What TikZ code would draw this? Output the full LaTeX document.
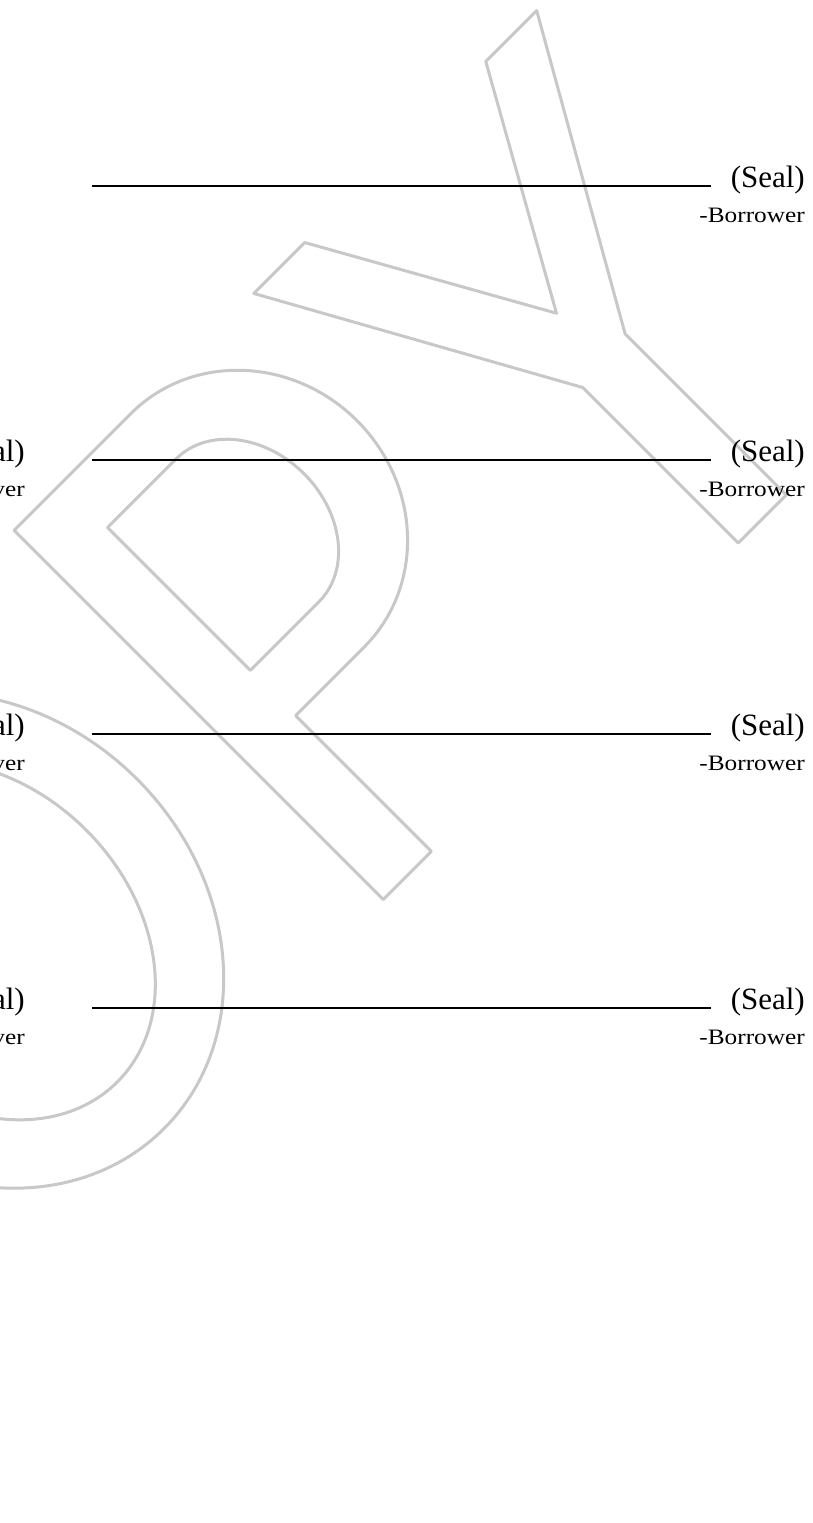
\documentclass[tikz,border=0pt]{standalone}
\usepackage{fontspec}
\setmainfont{Liberation Serif}
\definecolor{wmgray}{RGB}{200,200,200}
\begin{document}
\begin{tikzpicture}[x=1pt,y=1pt,
  sigline/.style={line width=1.8pt, black},
  sealtext/.style={anchor=base east, inner sep=0pt, font=\fontsize{31}{31}\selectfont},
  borrowertext/.style={anchor=base east, inner sep=0pt, font=\fontsize{22}{22}\selectfont, xscale=1.15},
  wm/.style={draw=wmgray, line width=3pt, line join=round}]
\useasboundingbox (0,0) rectangle (812,-1523);
\fill[white] (0,0) rectangle (812,-1523);
% watermark "COPY" outline
\begin{scope}
\clip (0,0) rectangle (812,-1523);
\begin{scope}[rotate=45]
  % O
  \draw[wm] (-682,-648) ellipse [x radius=228, y radius=266];
  \draw[wm] (-682,-648) ellipse [x radius=156, y radius=200];
  % P
  \draw[wm] (-365,-907) -- (-365,-385) -- (-200,-385)
     arc[start angle=90, end angle=-90, x radius=155, y radius=165]
     -- (-297,-715) -- (-297,-907) -- cycle;
  \draw[wm] (-297,-449) -- (-200,-449)
     arc[start angle=90, end angle=-90, x radius=80, y radius=101]
     -- (-297,-651) -- cycle;
  % Y
  \draw[wm] (372,-387) -- (206,-678) -- (206,-906) -- (138,-906) -- (138,-686)
     -- (-28,-387) -- (44,-387) -- (172,-615) -- (300,-387) -- cycle;
\end{scope}
\end{scope}
% signature lines and labels
\foreach \i/\y in {1/186, 2/460, 3/734, 4/1008} {
  \coordinate (la\i) at (92,-\y);
  \coordinate (lb\i) at (711,-\y);
  \draw[sigline] (la\i) -- (lb\i);
  \node[sealtext] (seal\i) at (805,-\y-1) {(Seal)};
  \node[borrowertext] (bor\i) at (805,-\y-36) {-Borrower};
}
\foreach \i/\y in {2/460, 3/734, 4/1008} {
  \node[sealtext] (sealL\i) at (25,-\y-1) {al)};
  \node[borrowertext] (borL\i) at (25,-\y-36) {ver};
}
\end{tikzpicture}
\end{document}
